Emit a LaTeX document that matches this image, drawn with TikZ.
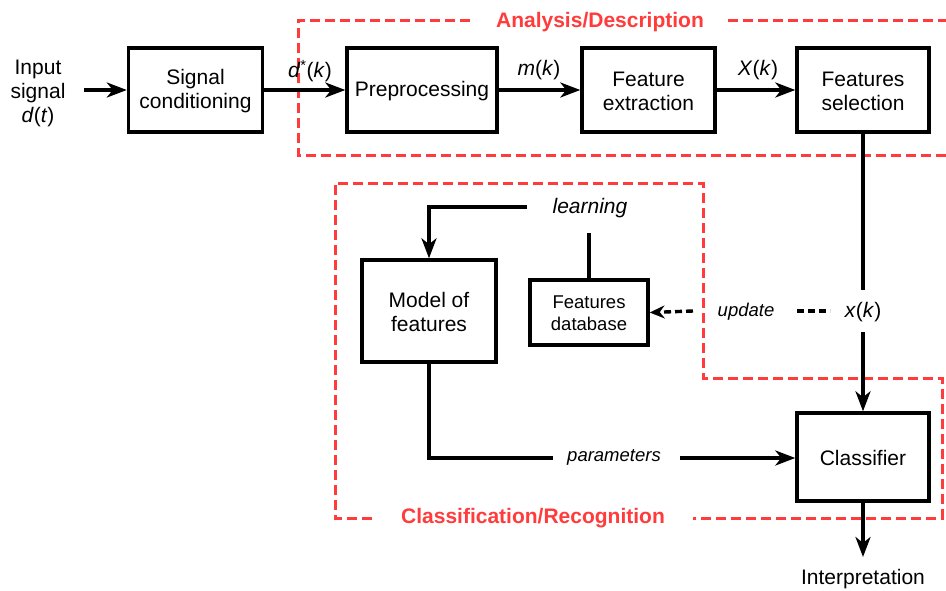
\documentclass[tikz,border=0pt]{standalone}
\usepackage{fontspec}
\setmainfont{Liberation Sans}
\usetikzlibrary{arrows.meta}
\definecolor{redd}{HTML}{FF3B3B}
\begin{document}
\begin{tikzpicture}[x=1pt,y=-1pt,
  blk/.style={draw,line width=3.4pt,minimum width=#1,minimum height=84pt,inner sep=0pt,align=center,font=\fontsize{21}{24}\selectfont},
  blk/.default=134pt,
  lbl/.style={font=\fontsize{21}{24}\selectfont,inner sep=1pt,align=center},
  sml/.style={font=\fontsize{18.5}{21}\selectfont\itshape,inner sep=1pt},
  conn/.style={line width=3.4pt},
  arr/.style={line width=3.4pt,-{Stealth[length=20pt,width=15pt,inset=6pt]}},
  reddash/.style={draw=redd,line width=3pt,dash pattern=on 10pt off 5pt},
  redlbl/.style={text=redd,font=\fontsize{21}{25}\selectfont\bfseries,inner sep=2pt}]
\useasboundingbox (0,0) rectangle (946,590);

% red dashed regions
\draw[reddash] (470,20) -- (298,20) -- (298,155) -- (946,155);
\draw[reddash] (728,20) -- (946,20);
\node[redlbl] (ttl1) at (600,22) {Analysis/Description};
\draw[reddash] (372,518) -- (335,518) -- (335,183) -- (703,183) -- (703,378) -- (942,378) -- (942,518) -- (693,518);
\node[redlbl] (ttl2) at (533,518) {Classification/Recognition};

% top row
\node[lbl] (in) at (38,93) {Input\\signal\\\textit{d}(\textit{t})};
\coordinate (inE) at (84,90);
\node[blk] (sc) at (195.5,90) {\rule{0pt}{17pt}Signal\\conditioning};
\node[blk=150pt] (pre) at (422,90) {\rule{0pt}{17pt}Preprocessing};
\node[blk=133pt] (fe) at (648.5,90) {\rule{0pt}{17pt}Feature\\extraction};
\node[blk=132pt] (fs) at (863,90) {\rule{0pt}{17pt}Features\\selection};
\draw[arr] (inE) -- (sc.west);
\draw[arr] (sc.east) -- (pre.west);
\draw[arr] (pre.east) -- (fe.west);
\draw[arr] (fe.east) -- (fs.west);
\node[lbl] (dk) at (310,71) {\textit{d}\textsuperscript{*}(\textit{k})};
\node[lbl] (mk) at (539,70) {\textit{m}(\textit{k})};
\node[lbl] (Xk) at (758,70) {\textit{X}(\textit{k})};

% lower part
\node[lbl] (xk) at (863,312) {\textit{x}(\textit{k})};
\node[blk=132pt,minimum height=88pt] (cl) at (863,457) {\rule{0pt}{17pt}Classifier};
\draw[conn] (fs.south) -- (863,290);
\draw[arr] (863,332) -- (cl.north);

\node[blk=134pt,minimum height=102pt] (mf) at (429,311) {\rule{0pt}{17pt}Model of\\features};
\node[blk=118pt,minimum height=65pt,font=\fontsize{18.5}{22}\selectfont] (db) at (589,312.5) {\rule{0pt}{15pt}Features\\database};
\node[lbl,font=\fontsize{21}{24}\selectfont\itshape] (learn) at (590,208) {learning};
\draw[arr] (527,207) -| (mf.north);
\draw[conn] (db.north |- 0,233) -- (db.north);

\node[sml] (upd) at (746,312) {update};
\draw[line width=3.4pt,dash pattern=on 7pt off 4pt,-{Stealth[length=15pt,width=13pt,inset=5pt]}] (693,311) -- (db.east);
\draw[line width=3.4pt,dash pattern=on 7pt off 4pt] (797,311) -- (830,311);

\node[sml] (par) at (614,457) {parameters};
\draw[conn] (mf.south) |- (553,458);
\draw[arr] (680,458) -- (cl.west |- 0,458);

\node[lbl] (interp) at (863,579) {Interpretation};
\draw[arr] (cl.south) -- (863,557);
\end{tikzpicture}
\end{document}
